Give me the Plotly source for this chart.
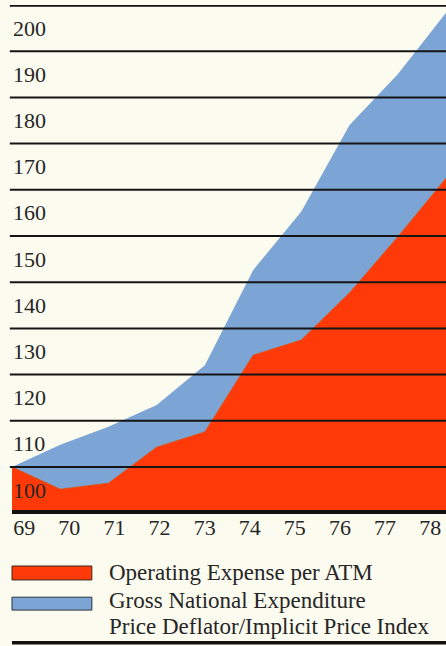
import plotly.graph_objects as go

years = [69, 70, 71, 72, 73, 74, 75, 76, 77, 78]
year_labels = ["69", "70", "71", "72", "73", "74", "75", "76", "77", "78"]
operating_expense = [100, 95.2, 96.5, 104.3, 107.6, 124.2, 127.5, 137.7, 149.8, 162.5]
gne_deflator = [100, 104.8, 108.7, 113.4, 122.0, 142.6, 155.3, 174.0, 185.0, 198.3]
grid_values = [100, 110, 120, 130, 140, 150, 160, 170, 180, 190]
y_label_values = [100, 110, 120, 130, 140, 150, 160, 170, 180, 190, 200]

RED = "#FF3A08"
BLUE = "#7CA5D5"
BG = "#FCFBEF"
INK = "#262626"
FONT = "Liberation Serif"

fig = go.Figure()
fig.add_trace(go.Scatter(x=years, y=gne_deflator, fill="tozeroy", mode="lines",
                         line=dict(color=BLUE, width=0), fillcolor=BLUE,
                         name="Gross National Expenditure", showlegend=False, hoverinfo="skip"))
fig.add_trace(go.Scatter(x=years, y=operating_expense, fill="tozeroy", mode="lines",
                         line=dict(color="#E0500A", width=0.8), fillcolor=RED,
                         name="Operating Expense per ATM", showlegend=False, hoverinfo="skip"))
# label axis carrier
fig.add_trace(go.Scatter(x=years, y=[None] * len(years), xaxis="x2", mode="lines",
                         showlegend=False, hoverinfo="skip"))

shapes = []
for v in grid_values:
    shapes.append(dict(type="line", xref="paper", yref="y", x0=-0.005, x1=1, y0=v, y1=v,
                       line=dict(color="#151515", width=2), layer="above"))
# top rule (200) and baseline
shapes.append(dict(type="line", xref="paper", yref="y", x0=-0.005, x1=1, y0=200, y1=200,
                   line=dict(color="#111111", width=3.5), layer="above"))
shapes.append(dict(type="line", xref="paper", yref="paper", x0=0, x1=1, y0=0, y1=0,
                   line=dict(color="#111111", width=4), layer="above"))
# legend swatches
shapes.append(dict(type="rect", xref="paper", yref="paper", x0=0, x1=0.184, y0=-0.134, y1=-0.1065,
                   fillcolor=RED, line=dict(color="#3a2a20", width=1)))
shapes.append(dict(type="rect", xref="paper", yref="paper", x0=0, x1=0.184, y0=-0.1935, y1=-0.168,
                   fillcolor=BLUE, line=dict(color="#2a3340", width=1)))
# bottom rule
shapes.append(dict(type="line", xref="paper", yref="paper", x0=0, x1=1, y0=-0.258, y1=-0.258,
                   line=dict(color="#111111", width=3.5)))

annotations = []
for v in y_label_values:
    annotations.append(dict(text=str(v), xref="paper", yref="y", x=0, y=v - 5, xanchor="left",
                            yanchor="middle", xshift=-1, showarrow=False,
                            font=dict(family=FONT, size=22, color=INK)))
for text, ypos in [("Operating Expense per ATM", -0.1203),
                   ("Gross National Expenditure", -0.1755),
                   ("Price Deflator/Implicit Price Index", -0.2249)]:
    annotations.append(dict(text=text, x=0.218, y=ypos, xref="paper", yref="paper",
                            xanchor="left", yanchor="middle", showarrow=False,
                            font=dict(family=FONT, size=23, color=INK)))

fig.update_layout(
    width=446, height=646,
    margin=dict(l=12, r=0, t=5, b=134),
    paper_bgcolor=BG, plot_bgcolor=BG,
    showlegend=False,
    shapes=shapes,
    annotations=annotations,
    xaxis=dict(range=[69, 78], visible=False, showgrid=False, zeroline=False),
    xaxis2=dict(range=[68.73, 78.35], overlaying="x", side="bottom", anchor="y",
                tickvals=years, ticktext=year_labels, showgrid=False, zeroline=False,
                showline=False, ticks="", tickfont=dict(family=FONT, size=22, color=INK)),
    yaxis=dict(range=[90.26, 200], showticklabels=False,
               showgrid=False, zeroline=False, showline=False, ticks=""),
)

fig.write_html("out.html")
